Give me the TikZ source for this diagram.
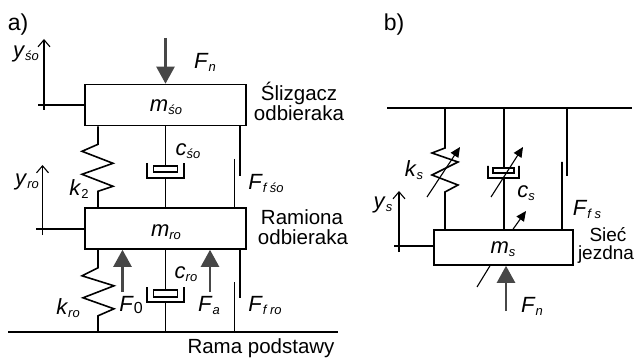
\documentclass[tikz,border=0pt]{standalone}
\usepackage{fontspec}
\setmainfont{Liberation Sans}
\usetikzlibrary{arrows.meta}
\newcommand{\sym}[2]{\textit{#1}{\fontsize{13}{14}\selectfont\raisebox{-3pt}{#2}}}
\tikzset{
  mass/.style={draw, line width=1.6pt, minimum height=41pt, inner sep=0pt},
  lbl/.style={inner sep=0pt, font=\fontsize{22}{24}\selectfont},
  txt/.style={inner sep=0pt, font=\fontsize{20.5}{22}\selectfont},
  link/.style={line width=1.6pt, line join=miter},
  axis/.style={line width=1.1pt, -{Straight Barb[length=7pt,width=12pt,line width=1.1pt]}},
  force/.style={line width=2.4pt, draw=black!72, -{Triangle[length=17pt,width=18pt,fill=black!72]}},
  tune/.style={line width=1.1pt, -{Triangle[length=10pt,width=9pt]}}
}
\begin{document}
\begin{tikzpicture}[x=1pt, y=-1pt]
  \useasboundingbox (0,0) rectangle (634,358);

  % a)
  \node[txt, font=\fontsize{23}{24}\selectfont] (tagA) at (18,25) {a)};
  \node[mass, minimum width=161pt] (mso) at (165.5,105) {};
  \node[mass, minimum width=161pt] (mro) at (165.5,228.5) {};
  \node[lbl] (lmso) at (166,107) {\sym{m}{\textit{śo}}};
  \node[lbl] (lmro) at (166,232) {\sym{m}{\textit{ro}}};

  \coordinate (gndL) at (8,332);
  \coordinate (gndR) at (338,332);
  \coordinate (colK) at (98,0);
  \coordinate (colC) at (165.5,0);
  \coordinate (colFa) at (240,0);
  \coordinate (colFb) at (234.5,0);

  \draw[line width=2.2pt] (gndL) -- (gndR);

  % springs
  \draw[link]
    (mso.south -| colK) -- ++(0,18) -- ++(-16,7) -- ++(31,12) -- ++(-31,11) -- ++(31,12) -- ++(-15,5)
    -- (mro.north -| colK)
    (mro.south -| colK) -- ++(0,18) -- ++(-16,8) -- ++(32,10) -- ++(-31,12) -- ++(31,11) -- ++(-16,7)
    -- (gndL -| colK)
  ;

  % dampers
  \draw[link]
    (mso.south -| colC) -- ++(0,40)
    ++(-12,0) rectangle ++(24,6)
    (147,163) -- (147,178) -- (184,178) -- (184,163)
    (colC |- 0,178) -- (mro.north -| colC)
    (mro.south -| colC) -- ++(0,40)
    ++(-12,0) rectangle ++(24,7)
    (147,287) -- (147,302) -- (184,302) -- (184,287)
    (colC |- 0,302) -- (gndL -| colC)
  ;

  % friction
  \draw[link]
    (mso.south -| colFa) -- ++(0,50)
    (colFb |- 0,159) -- (mro.north -| colFb)
    (mro.south -| colFa) -- ++(0,48)
    (colFb |- 0,282) -- (gndL -| colFb)
  ;

  % forces
  \draw[force] (165.5,38) -- (mso.north);
  \draw[force] (122.5,292) -- (mro.south -| 122.5,0);
  \draw[force] (210,292) -- (mro.south -| 210,0);

  % displacement axes
  \draw[axis] (44,110) -- (44,39);
  \draw[axis] (42.5,235) -- (42.5,165);
  \draw[link, line width=1.1pt]
    (38,105) -- (mso.west |- 0,105)
    (36,229) -- (mro.west |- 0,229)
  ;

  \node[lbl] (lyso) at (26,54) {\sym{y}{\textit{śo}}};
  \node[lbl] (lyro) at (27,182) {\sym{y}{\textit{ro}}};
  \node[lbl] (lFn) at (205,62) {\sym{F}{\textit{n}}};
  \node[lbl] (lcso) at (188,151) {\sym{c}{\textit{śo}}};
  \node[lbl] (lcro) at (186,274) {\sym{c}{\textit{ro}}};
  \node[lbl] (lk2) at (79,189) {\sym{k}{2}};
  \node[lbl] (lkro) at (68,308) {\sym{k}{\textit{ro}}};
  \node[lbl] (lF0) at (131,305) {\textit{F}\raisebox{-2pt}{\fontsize{16}{17}\selectfont 0}};
  \node[lbl] (lFa) at (209,305) {\sym{F}{\textit{a}}};
  \node[lbl] (lFfso) at (266,183) {\sym{F}{\textit{f śo}}};
  \node[lbl] (lFfro) at (265,305) {\sym{F}{\textit{f ro}}};

  \node[txt] (tSl) at (299,93) {Ślizgacz};
  \node[txt] (tOa) at (299,113) {odbieraka};
  \node[txt] (tRa) at (302,217) {Ramiona};
  \node[txt] (tOb) at (303,237) {odbieraka};
  \node[txt] (tRp) at (261,348) {Rama podstawy};

  % b)
  \node[txt, font=\fontsize{23}{24}\selectfont] (tagB) at (394,25) {b)};
  \node[mass, minimum width=139pt, minimum height=35pt] (ms) at (503.5,247.5) {};
  \node[lbl] (lms) at (503,249) {\sym{m}{\textit{s}}};

  \coordinate (topL) at (387,108);
  \coordinate (topR) at (632,108);
  \coordinate (colKs) at (445,0);
  \coordinate (colCs) at (504,0);
  \coordinate (colFc) at (567,0);
  \coordinate (colFd) at (562,0);

  \draw[line width=2.2pt] (topL) -- (topR);

  \draw[link]
    (topL -| colKs) -- ++(0,40) -- ++(-13,5) -- ++(26,9) -- ++(-26,13) -- ++(26,10) -- ++(-13,7)
    -- (ms.north -| colKs)
    (topL -| colCs) -- ++(0,60)
    ++(-11,0) rectangle ++(21,5)
    (488,166) -- (488,178) -- (519,178) -- (519,166)
    (colCs |- 0,178) -- (ms.north -| colCs)
    (topL -| colFc) -- ++(0,68)
    (colFd |- 0,162) -- (ms.north -| colFd)
  ;

  \draw[tune] (427,197) -- (460,147);
  \draw[tune] (491,197) -- (523,147);
  \draw[tune] (ms.north -| 513,0) -- (526,211);
  \draw[line width=1.1pt] (477,287) -- (ms.south -| 490,0);

  \draw[force] (506,311) -- (ms.south -| 506,0);
  \draw[axis] (399,252) -- (399,191);
  \draw[line width=1.1pt] (394,246) -- (ms.west |- 0,246);

  \node[lbl] (lks) at (414,170) {\sym{k}{\textit{s}}};
  \node[lbl] (lcs) at (526,193) {\sym{c}{\textit{s}}};
  \node[lbl] (lys) at (383,205) {\sym{y}{\textit{s}}};
  \node[lbl] (lFfs) at (587,209) {\sym{F}{\textit{f s}}};
  \node[lbl] (lFnb) at (532,306) {\sym{F}{\textit{n}}};
  \node[txt, font=\fontsize{19}{20}\selectfont] (tSi) at (608,235) {Sieć};
  \node[txt, font=\fontsize{19}{20}\selectfont] (tJe) at (606,255) {jezdna};
\end{tikzpicture}
\end{document}
